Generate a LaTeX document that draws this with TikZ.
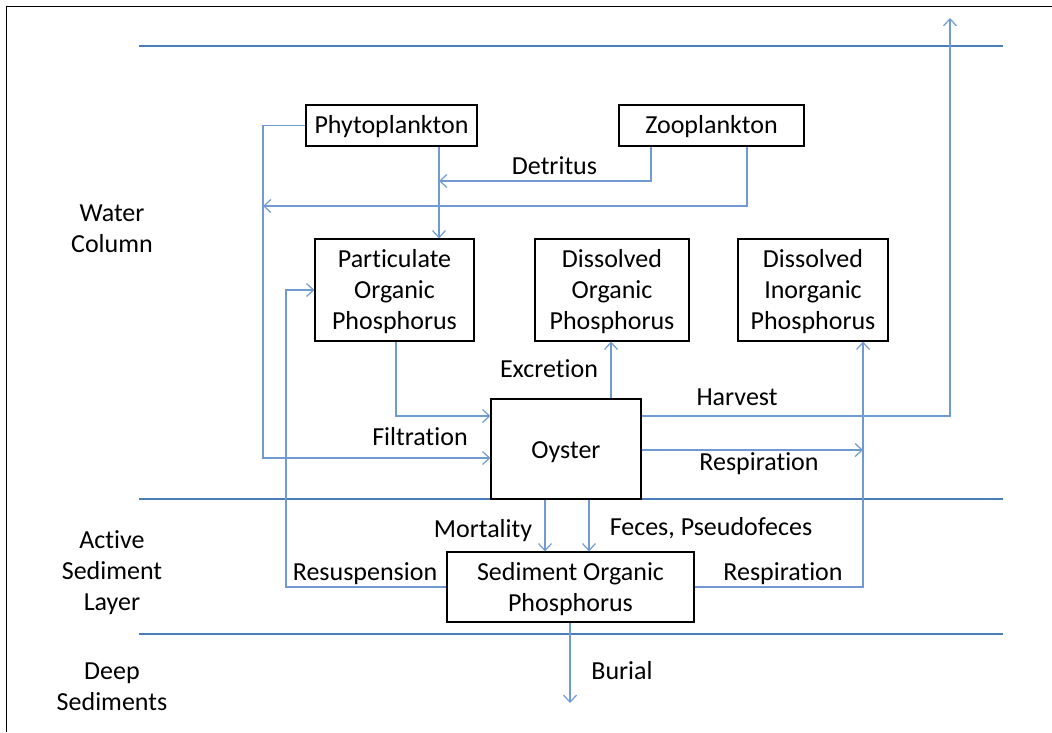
\documentclass[tikz,border=0pt]{standalone}
\usepackage{fontspec}
\setmainfont{Carlito}[Ligatures=CommonOff]
\usetikzlibrary{arrows.meta}
\definecolor{layerblue}{HTML}{4A7EBB}
\definecolor{connblue}{HTML}{6F9BD2}
\newcommand{\lowered}[2]{\raisebox{-#1}[\height][\depth]{#2}}
\newcommand{\btext}[1]{\lowered{2.5pt}{\begin{tabular}{@{}c@{}}#1\end{tabular}}}
\tikzset{
  every node/.style={font=\fontsize{26}{31}\selectfont, inner sep=0pt},
  box/.style={draw=black, line width=1.2pt, fill=white, align=center},
  conn/.style={draw=connblue, line width=1.3pt, -{Straight Barb[length=7pt,width=13pt,line width=1.2pt]}},
  layer/.style={draw=layerblue, line width=1.5pt},
  lbl/.style={anchor=base},
  side/.style={align=center, anchor=base}
}
\begin{document}
\begin{tikzpicture}[x=1pt,y=-1pt]
\useasboundingbox (0,0) rectangle (1052,732);
% frame
\draw[line width=1.5pt] (6.5,732) -- (6.5,6.5) -- (1052,6.5);
% layer lines
\draw[layer] (139,46) -- (1003,46);
\draw[layer] (139,499) -- (1003,499);
\draw[layer] (139,634) -- (1003,634);
% coordinates
\coordinate (harvestend) at (950,18);
\coordinate (burialend) at (570,703);
% boxes
\node[box, minimum width=171pt, minimum height=41pt] (phyto) at (391.5,125.5) {\lowered{1.5pt}{Phytoplankton}};
\node[box, minimum width=185pt, minimum height=41pt] (zoo) at (711.5,125.5) {\lowered{1.5pt}{Zooplankton}};
\node[box, minimum width=159pt, minimum height=102pt] (pop) at (394.5,290) {\btext{Particulate\\Organic\\Phosphorus}};
\node[box, minimum width=154pt, minimum height=102pt] (dop) at (612,290) {\btext{Dissolved\\Organic\\Phosphorus}};
\node[box, minimum width=150pt, minimum height=102pt] (dip) at (813,290) {\btext{Dissolved\\Inorganic\\Phosphorus}};
\node[box, minimum width=150pt, minimum height=100pt] (oyster) at (566,449) {\lowered{3pt}{Oyster}};
\node[box, minimum width=247pt, minimum height=70pt] (sed) at (570.5,587) {\btext{Sediment Organic\\Phosphorus}};
% connectors
\draw[conn] (phyto.west) -| (263,458) -- (oyster.west |- 0,458);
\draw[conn] (phyto.south -| 439,0) -- (pop.north -| 439,0);
\draw[conn] (zoo.south -| 651,0) |- (439,181);
\draw[conn] (zoo.south -| 747,0) |- (263,206);
\draw[conn] (pop.south -| 396,0) |- (oyster.west |- 0,416);
\draw[conn] (oyster.north -| 611,0) -- (dop.south -| 611,0);
\draw[conn] (oyster.east |- 0,416) -| (harvestend);
\draw[conn] (oyster.east |- 0,450) -- (863,450);
\draw[conn] (sed.east) -| (dip.south -| 863,0);
\draw[conn] (sed.west) -| (286,290) -- (pop.west);
\draw[conn] (oyster.south -| 545,0) -- (sed.north -| 545,0);
\draw[conn] (oyster.south -| 589,0) -- (sed.north -| 589,0);
\draw[conn] (sed.south -| 570,0) -- (burialend);
% labels
\node[lbl] (l1) at (554.5,174) {Detritus};
\node[lbl] (l2) at (549,377) {Excretion};
\node[lbl] (l3) at (420,445) {Filtration};
\node[lbl] (l4) at (737,405) {Harvest};
\node[lbl] (l5) at (759,470) {Respiration};
\node[lbl] (l6) at (483,537) {Mortality};
\node[lbl] (l7) at (711,535) {Feces, Pseudofeces};
\node[lbl] (l8) at (365,580) {Resuspension};
\node[lbl] (l9) at (783,580) {Respiration};
\node[lbl] (l10) at (622,679) {Burial};
% side labels
\node[side] (s1) at (112,252) {Water\\Column};
\node[side] (s2) at (112,610) {Active\\Sediment\\Layer};
\node[side] (s3) at (112,710) {Deep\\Sediments};
\end{tikzpicture}
\end{document}
